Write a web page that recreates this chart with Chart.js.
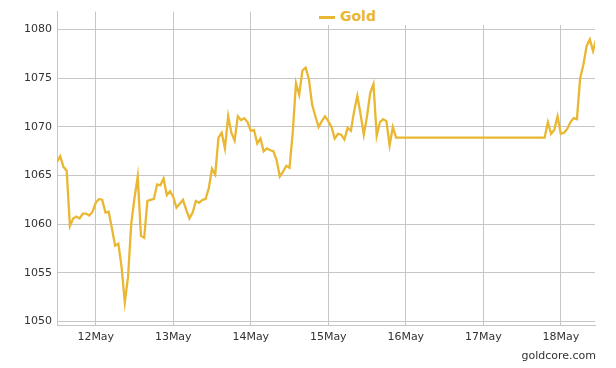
<!DOCTYPE html>
<html>
<head>
<meta charset="utf-8">
<script src="https://cdn.jsdelivr.net/npm/chart.js@4"></script>
<style>
  body { margin: 0; background: #fff; }
  #wrap { position: relative; width: 616px; height: 368px; }
  #legend {
    position: absolute; left: 318px; top: 0; width: 278px; height: 25px;
    background: #fff; font: bold 14px "DejaVu Sans"; color: #E9B732;
  }
  #legend .swatch {
    position: absolute; left: 1px; top: 16px; width: 16px; height: 3px; background: #E9B732;
  }
  #legend .label { position: absolute; left: 22px; top: 8px; }
  #credit {
    position: absolute; right: 20px; top: 349px;
    font: 11px "DejaVu Sans"; color: #333;
  }
</style>
</head>
<body>
<div id="wrap">
  <canvas id="chart" width="616" height="368"></canvas>
  <div id="legend"><span class="swatch"></span><span class="label">Gold</span></div>
  <div id="credit">goldcore.com</div>
</div>
<script>
// hourly gold price, first point = 11 May 12:00
const seriesName = 'Gold';
const gold = [
  1066.4, 1067.0, 1065.9, 1065.5, 1059.8, 1060.6, 1060.8, 1060.6, 1061.1, 1061.1, 1060.9, 1061.3,
  1062.2, 1062.6, 1062.5, 1061.2, 1061.3, 1059.6, 1057.8, 1058.0, 1055.6, 1052.0, 1054.6, 1060.1,
  1062.7, 1064.9, 1058.8, 1058.6, 1062.4, 1062.5, 1062.6, 1064.1, 1064.0, 1064.7, 1063.0, 1063.4,
  1062.8, 1061.7, 1062.1, 1062.5, 1061.5, 1060.6, 1061.2, 1062.4, 1062.2, 1062.5, 1062.6, 1063.7,
  1065.7, 1065.1, 1068.9, 1069.4, 1067.8, 1071.1, 1069.4, 1068.6, 1071.1, 1070.7, 1070.9, 1070.5,
  1069.6, 1069.7, 1068.3, 1068.8, 1067.5, 1067.8, 1067.6, 1067.5, 1066.6, 1064.9, 1065.4, 1066.0,
  1065.8, 1069.4, 1074.5, 1073.3, 1075.8, 1076.1, 1074.9, 1072.3, 1071.1, 1070.0, 1070.6, 1071.1,
  1070.6, 1070.0, 1068.8, 1069.3, 1069.2, 1068.7, 1069.9, 1069.6, 1071.6, 1073.2, 1071.3, 1069.2,
  1071.1, 1073.5, 1074.4, 1069.1, 1070.5, 1070.8, 1070.6, 1068.1, 1070.0, 1068.9, 1068.9, 1068.9,
  1068.9, 1068.9, 1068.9, 1068.9, 1068.9, 1068.9, 1068.9, 1068.9, 1068.9, 1068.9, 1068.9, 1068.9,
  1068.9, 1068.9, 1068.9, 1068.9, 1068.9, 1068.9, 1068.9, 1068.9, 1068.9, 1068.9, 1068.9, 1068.9,
  1068.9, 1068.9, 1068.9, 1068.9, 1068.9, 1068.9, 1068.9, 1068.9, 1068.9, 1068.9, 1068.9, 1068.9,
  1068.9, 1068.9, 1068.9, 1068.9, 1068.9, 1068.9, 1068.9, 1068.9, 1070.5, 1069.3, 1069.7, 1071.1,
  1069.3, 1069.4, 1069.8, 1070.5, 1070.9, 1070.8, 1075.0, 1076.4, 1078.3, 1079.0, 1077.8, 1079.1
];
const dayTicks = [12, 36, 60, 84, 108, 132, 156];   // hours after 11 May 12:00
const dayLabels = ['12May', '13May', '14May', '15May', '16May', '17May', '18May'];
const yTicks = [1050, 1055, 1060, 1065, 1070, 1075, 1080];

const gridColor = '#c6c6c6';
Chart.defaults.font.family = 'DejaVu Sans';
Chart.defaults.font.size = 11;
Chart.defaults.color = '#333';

new Chart(document.getElementById('chart'), {
  type: 'line',
  data: {
    datasets: [{
      label: seriesName,
      data: gold.map((v, i) => ({ x: i, y: v })),
      borderColor: '#E9B732',
      borderWidth: 2.3,
      pointRadius: 0,
      tension: 0,
      fill: false
    }]
  },
  options: {
    responsive: false,
    animation: false,
    layout: { padding: { left: 0, right: 21, top: 8, bottom: 0 } },
    plugins: { legend: { display: false }, tooltip: { enabled: false } },
    scales: {
      x: {
        type: 'linear',
        min: 0,
        max: 166.6,
        afterBuildTicks: (s) => { s.ticks = dayTicks.map(v => ({ value: v })); },
        afterFit: (s) => { s.height = 43; },
        ticks: {
          padding: 6,
          callback: (v) => dayLabels[dayTicks.indexOf(v)]
        },
        grid: { color: gridColor, drawTicks: false },
        border: { color: gridColor }
      },
      y: {
        min: 1049.65,
        max: 1081.85,
        afterBuildTicks: (s) => { s.ticks = yTicks.map(v => ({ value: v })); },
        afterFit: (s) => { s.width = 57; },
        ticks: { padding: 5, callback: (v) => String(v) },
        grid: { color: gridColor, drawTicks: false },
        border: { color: gridColor }
      }
    }
  }
});
</script>
</body>
</html>
